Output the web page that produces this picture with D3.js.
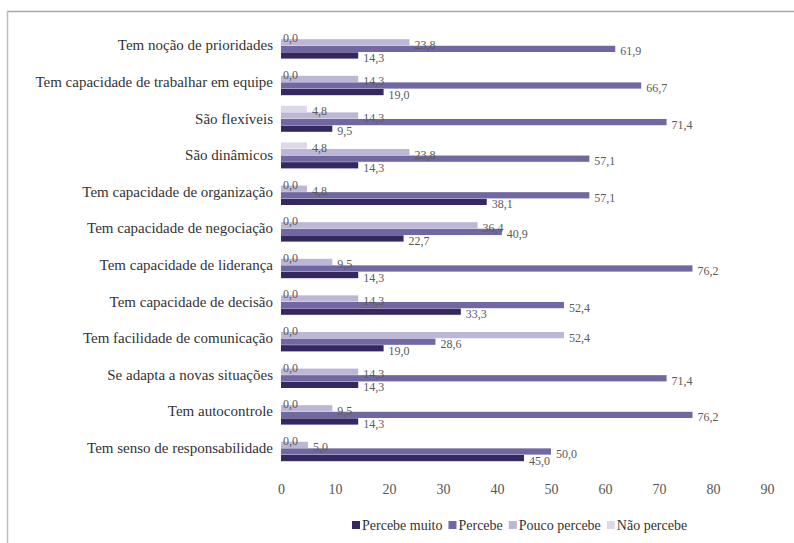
<!DOCTYPE html>
<html>
<head>
<meta charset="utf-8">
<script src="https://cdn.jsdelivr.net/npm/d3@7/dist/d3.min.js"></script>
<style>
  html, body { margin: 0; padding: 0; background: #fff; }
  svg { display: block; }
  text { font-family: "Liberation Serif", "DejaVu Serif", serif; }
</style>
</head>
<body>
<svg id="chart" width="794" height="543"></svg>
<script>
const categories = [
  "Tem noção de prioridades",
  "Tem capacidade de trabalhar em equipe",
  "São flexíveis",
  "São dinâmicos",
  "Tem capacidade de organização",
  "Tem capacidade de negociação",
  "Tem capacidade de liderança",
  "Tem capacidade de decisão",
  "Tem facilidade de comunicação",
  "Se adapta a novas situações",
  "Tem autocontrole",
  "Tem senso de responsabilidade"
];
const seriesNames = ["Percebe muito", "Percebe", "Pouco percebe", "Não percebe"];
const percebeMuito = [14.3, 19.0, 9.5, 14.3, 38.1, 22.7, 14.3, 33.3, 19.0, 14.3, 14.3, 45.0];
const percebe      = [61.9, 66.7, 71.4, 57.1, 57.1, 40.9, 76.2, 52.4, 28.6, 71.4, 76.2, 50.0];
const poucoPercebe = [23.8, 14.3, 14.3, 23.8, 4.8, 36.4, 9.5, 14.3, 52.4, 14.3, 9.5, 5.0];
const naoPercebe   = [0.0, 0.0, 4.8, 4.8, 0.0, 0.0, 0.0, 0.0, 0.0, 0.0, 0.0, 0.0];
const xTicks = [0, 10, 20, 30, 40, 50, 60, 70, 80, 90];

const seriesValues = [percebeMuito, percebe, poucoPercebe, naoPercebe];
const colors = ["#35285f", "#7167a3", "#bdb6d6", "#dcd8ea"];
// drawing order inside each group: top to bottom
const stackOrder = ["Não percebe", "Pouco percebe", "Percebe", "Percebe muito"];

const svg = d3.select("#chart");

// frame (top + left lines)
svg.append("line").attr("x1", 7).attr("x2", 794).attr("y1", 11.5).attr("y2", 11.5)
  .attr("stroke", "#a6a2c0").attr("stroke-width", 1.5);
svg.append("line").attr("x1", 7.5).attr("x2", 7.5).attr("y1", 11).attr("y2", 543)
  .attr("stroke", "#bdbdbd").attr("stroke-width", 1.5);

const x = d3.scaleLinear().domain([0, 90]).range([281, 767]);
const y = d3.scaleBand().domain(categories).range([27.3, 466.5])
  .paddingInner(0.29).paddingOuter(0.145);
const ySub = d3.scaleBand().domain(stackOrder).range([0, y.bandwidth()]).paddingInner(0.05);

const fmt = v => d3.format(".1f")(v).replace(".", ",");

const rows = [];
categories.forEach((c, i) => {
  seriesNames.forEach((s, j) => {
    rows.push({ cat: c, series: s, value: seriesValues[j][i], color: colors[j] });
  });
});

const g = svg.append("g");
g.selectAll("rect.bar").data(rows).join("rect")
  .attr("class", "bar")
  .attr("x", x(0))
  .attr("y", d => y(d.cat) + ySub(d.series))
  .attr("width", d => x(d.value) - x(0))
  .attr("height", ySub.bandwidth())
  .attr("fill", d => d.color);

g.selectAll("text.val").data(rows).join("text")
  .attr("class", "val")
  .attr("x", d => x(d.value) + (d.value === 0 ? 2 : 5))
  .attr("y", d => y(d.cat) + ySub(d.series) + ySub.bandwidth() / 2 + 2.5)
  .attr("dominant-baseline", "central")
  .attr("font-size", 12)
  .attr("fill", "#5a5a5a")
  .text(d => fmt(d.value));

// category labels
const yAxis = d3.axisLeft(y).tickSize(0).tickPadding(0);
const ya = svg.append("g").attr("transform", "translate(273,0)").call(yAxis);
ya.select(".domain").remove();
ya.selectAll("text").attr("font-size", 15).attr("fill", "#333")
  .attr("font-family", "Liberation Serif, DejaVu Serif, serif");

// x axis
const xAxis = d3.axisBottom(x).tickValues(xTicks).tickSize(0).tickPadding(0).tickFormat(d3.format("d"));
const xa = svg.append("g").attr("transform", "translate(0,484)").call(xAxis);
xa.select(".domain").remove();
xa.selectAll("text").attr("font-size", 14).attr("fill", "#555")
  .attr("font-family", "Liberation Serif, DejaVu Serif, serif");

// legend
const legendItems = seriesNames.map((s, j) => ({ name: s, color: colors[j] }));
const legend = svg.append("g").attr("transform", "translate(352,525)");
let lx = 0;
legendItems.forEach(it => {
  const gi = legend.append("g").attr("transform", `translate(${lx},0)`);
  gi.append("rect").attr("x", 0).attr("y", -4).attr("width", 8).attr("height", 8).attr("fill", it.color);
  const t = gi.append("text").attr("x", 10).attr("y", 0).attr("dominant-baseline", "central")
    .attr("font-size", 14).attr("fill", "#333").text(it.name);
  lx += 10 + t.node().getComputedTextLength() + 6;
});
</script>
</body>
</html>
